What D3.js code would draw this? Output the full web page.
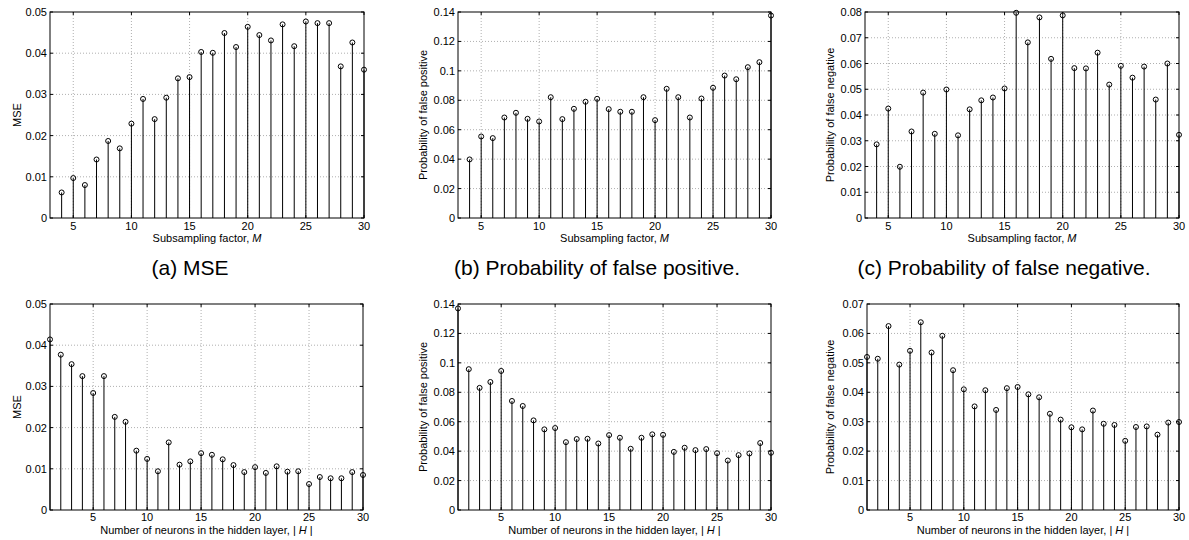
<!doctype html>
<html>
<head>
<meta charset="utf-8">
<script src="https://cdnjs.cloudflare.com/ajax/libs/d3/7.8.5/d3.min.js"></script>
<style>
  body { margin: 0; background: #fff; }
  svg { display: block; font-family: "Liberation Sans", Arial, Helvetica, sans-serif; }
  .grid line { stroke: #9a9a9a; stroke-width: 0.8; stroke-dasharray: 1,2; }
  .stem { stroke: #000; stroke-width: 1; }
  .mark { fill: none; stroke: #000; stroke-width: 1; }
  .box { fill: none; stroke: #000; stroke-width: 1; }
  .tick-lbl { font-size: 11px; fill: #000; }
  .ax-lbl { font-size: 11px; fill: #000; }
  .caption { font-size: 21px; fill: #000; }
</style>
</head>
<body>
<svg width="1189" height="540"></svg>
<script>
// categories
let subsampling = [4,5,6,7,8,9,10,11,12,13,14,15,16,17,18,19,20,21,22,23,24,25,26,27,28,29,30];
let hiddenSize = [1,2,3,4,5,6,7,8,9,10,11,12,13,14,15,16,17,18,19,20,21,22,23,24,25,26,27,28,29,30];

// top row: versus subsampling factor M
let mseByM = [0.0062,0.0097,0.0080,0.0142,0.0187,0.0169,0.0229,0.0289,0.0240,0.0292,0.0339,0.0342,
              0.0403,0.0401,0.0449,0.0415,0.0464,0.0444,0.0431,0.0470,0.0417,0.0477,0.0473,0.0473,
              0.0368,0.0426,0.0360];
let fpByM = [0.0398,0.0554,0.0543,0.0683,0.0715,0.0674,0.0656,0.0821,0.0672,0.0742,0.0790,0.0810,
             0.0740,0.0722,0.0722,0.0821,0.0665,0.0878,0.0821,0.0683,0.0812,0.0885,0.0968,0.0943,
             0.1025,0.1059,0.1376];
let fnByM = [0.0286,0.0425,0.0199,0.0336,0.0487,0.0327,0.0499,0.0321,0.0422,0.0457,0.0468,0.0503,
             0.0797,0.0682,0.0779,0.0618,0.0787,0.0582,0.0581,0.0642,0.0518,0.0591,0.0545,0.0588,
             0.0460,0.0600,0.0323];

// bottom row: versus hidden layer size |H|
let mseByH = [0.0414,0.0377,0.0354,0.0325,0.0284,0.0325,0.0226,0.0214,0.0144,0.0124,0.0094,0.0164,
              0.0110,0.0118,0.0138,0.0134,0.0123,0.0109,0.0092,0.0104,0.0090,0.0106,0.0093,0.0094,
              0.0063,0.0080,0.0077,0.0077,0.0092,0.0085];
let fpByH = [0.1370,0.0957,0.0830,0.0870,0.0945,0.0741,0.0707,0.0609,0.0548,0.0557,0.0461,0.0482,
             0.0484,0.0452,0.0509,0.0491,0.0416,0.0491,0.0514,0.0511,0.0395,0.0423,0.0407,0.0414,
             0.0386,0.0336,0.0373,0.0384,0.0455,0.0389];
let fnByH = [0.0520,0.0514,0.0625,0.0494,0.0541,0.0638,0.0535,0.0592,0.0475,0.0410,0.0352,0.0407,
             0.0340,0.0414,0.0418,0.0393,0.0383,0.0327,0.0307,0.0281,0.0274,0.0338,0.0293,0.0289,
             0.0235,0.0282,0.0284,0.0256,0.0297,0.0299];

// tick labels
let xTicks = [5,10,15,20,25,30];
let mseTicks = [0,0.01,0.02,0.03,0.04,0.05];
let fpTicks = [0,0.02,0.04,0.06,0.08,0.1,0.12,0.14];
let fnTicksTop = [0,0.01,0.02,0.03,0.04,0.05,0.06,0.07,0.08];
let fnTicksBottom = [0,0.01,0.02,0.03,0.04,0.05,0.06,0.07];

let captions = ["(a) MSE", "(b) Probability of false positive.", "(c) Probability of false negative."];
let captionX = [190, 597, 1004];

let panels = [
  {x0: 50,  x1: 364,  y0: 12,  y1: 218, xs: subsampling, ys: mseByM, xdom: [3,30], yt: mseTicks,   ylab: "MSE", ylx: 20.5, xlab: "M", tickGap: 12, xlabGap: 24},
  {x0: 458, x1: 771,  y0: 12,  y1: 218, xs: subsampling, ys: fpByM,  xdom: [3,30], yt: fpTicks,    ylab: "Probability of false positive", ylx: 427, xlab: "M", tickGap: 12, xlabGap: 24},
  {x0: 865, x1: 1179, y0: 12,  y1: 218, xs: subsampling, ys: fnByM,  xdom: [3,30], yt: fnTicksTop, ylab: "Probability of false negative", ylx: 834, xlab: "M", tickGap: 12, xlabGap: 24},
  {x0: 50,  x1: 363,  y0: 304, y1: 510, xs: hiddenSize,  ys: mseByH, xdom: [1,30], yt: mseTicks,   ylab: "MSE", ylx: 20.5, xlab: "H", tickGap: 11, xlabGap: 23.5},
  {x0: 458, x1: 771,  y0: 304, y1: 510, xs: hiddenSize,  ys: fpByH,  xdom: [1,30], yt: fpTicks,    ylab: "Probability of false positive", ylx: 427, xlab: "H", tickGap: 11, xlabGap: 23.5},
  {x0: 867, x1: 1179, y0: 304, y1: 510, xs: hiddenSize,  ys: fnByH,  xdom: [1,30], yt: fnTicksBottom, ylab: "Probability of false negative", ylx: 834, xlab: "H", tickGap: 11, xlabGap: 23.5}
];

var svg = d3.select("svg");
var fmt = d => String(+d.toFixed(2));

panels.forEach(function(p) {
  var x = d3.scaleLinear().domain(p.xdom).range([p.x0, p.x1]);
  var y = d3.scaleLinear().domain([0, p.yt[p.yt.length - 1]]).range([p.y1, p.y0]);
  var g = svg.append("g");

  // dotted grid
  var grid = g.append("g").attr("class", "grid");
  grid.selectAll("line.gx").data(xTicks.filter(t => t > p.xdom[0] && t < p.xdom[1]))
    .enter().append("line")
    .attr("x1", d => x(d)).attr("x2", d => x(d))
    .attr("y1", p.y0).attr("y2", p.y1);
  grid.selectAll("line.gy").data(p.yt.slice(1, -1))
    .enter().append("line")
    .attr("x1", p.x0).attr("x2", p.x1)
    .attr("y1", d => y(d)).attr("y2", d => y(d));

  // inward ticks on all four sides
  var tk = g.append("g").attr("stroke", "#000").attr("stroke-width", 1);
  xTicks.forEach(function(t) {
    tk.append("line").attr("x1", x(t)).attr("x2", x(t)).attr("y1", p.y1).attr("y2", p.y1 - 3);
    tk.append("line").attr("x1", x(t)).attr("x2", x(t)).attr("y1", p.y0).attr("y2", p.y0 + 3);
  });
  p.yt.forEach(function(t) {
    tk.append("line").attr("x1", p.x0).attr("x2", p.x0 + 3).attr("y1", y(t)).attr("y2", y(t));
    tk.append("line").attr("x1", p.x1).attr("x2", p.x1 - 3).attr("y1", y(t)).attr("y2", y(t));
  });

  // stems
  var pts = p.xs.map((v, i) => ({k: v, v: p.ys[i]}));
  g.selectAll("line.stem").data(pts).enter().append("line")
    .attr("class", "stem")
    .attr("x1", d => x(d.k)).attr("x2", d => x(d.k))
    .attr("y1", y(0)).attr("y2", d => y(d.v));

  g.append("rect").attr("class", "box")
    .attr("x", p.x0).attr("y", p.y0)
    .attr("width", p.x1 - p.x0).attr("height", p.y1 - p.y0);

  g.selectAll("circle").data(pts).enter().append("circle")
    .attr("class", "mark")
    .attr("cx", d => x(d.k)).attr("cy", d => y(d.v)).attr("r", 2.5);

  // tick labels
  g.selectAll("text.xt").data(xTicks).enter().append("text")
    .attr("class", "tick-lbl").attr("text-anchor", "middle")
    .attr("x", d => x(d)).attr("y", p.y1 + p.tickGap)
    .text(d => d);
  g.selectAll("text.yt").data(p.yt).enter().append("text")
    .attr("class", "tick-lbl").attr("text-anchor", "end")
    .attr("x", p.x0 - 3).attr("y", d => y(d) + 4)
    .text(fmt);

  // axis labels
  var xl = g.append("text").attr("class", "ax-lbl").attr("text-anchor", "middle")
    .attr("x", (p.x0 + p.x1) / 2).attr("y", p.y1 + p.xlabGap);
  if (p.xlab == "M") {
    xl.append("tspan").text("Subsampling factor, ");
    xl.append("tspan").attr("font-style", "italic").text("M");
  } else {
    xl.append("tspan").text("Number of neurons in the hidden layer, | ");
    xl.append("tspan").attr("font-style", "italic").text("H");
    xl.append("tspan").text(" |");
  }
  g.append("text").attr("class", "ax-lbl").attr("text-anchor", "middle")
    .attr("transform", "translate(" + p.ylx + "," + ((p.y0 + p.y1) / 2) + ") rotate(-90)")
    .text(p.ylab);
});

svg.selectAll("text.caption").data(captions).enter().append("text")
  .attr("class", "caption").attr("text-anchor", "middle")
  .attr("x", (d, i) => captionX[i]).attr("y", 275)
  .text(d => d);
</script>
</body>
</html>
